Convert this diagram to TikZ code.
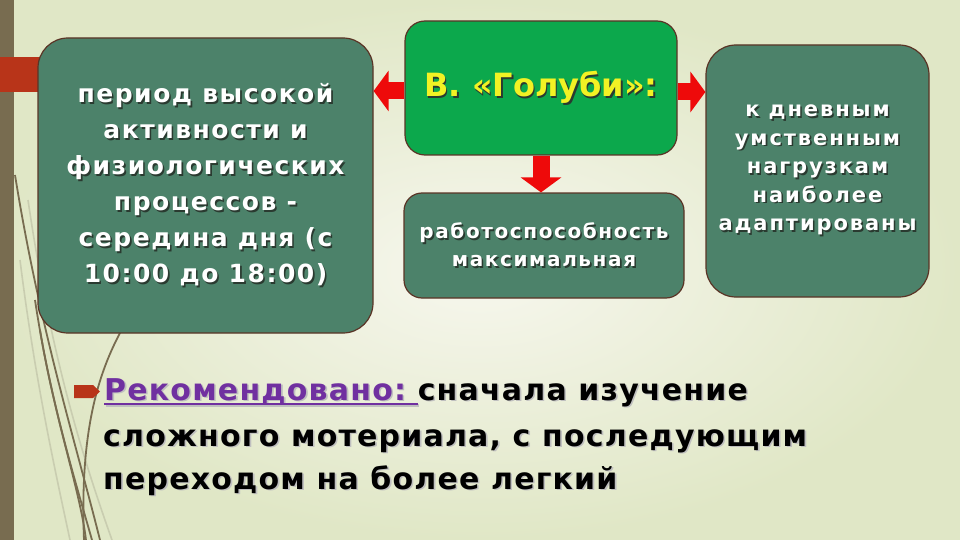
\documentclass[tikz,border=0pt]{standalone}
\usepackage{fontspec}
\setmainfont{DejaVu Sans}
\usetikzlibrary{arrows.meta}
\definecolor{bgin}{HTML}{F7F7EE}
\definecolor{bgout}{HTML}{E0E7C6}
\definecolor{olive}{HTML}{786C50}
\definecolor{paleolive}{HTML}{C9CDB0}
\definecolor{barred}{HTML}{B83419}
\definecolor{teal}{HTML}{4C826A}
\definecolor{brightgreen}{HTML}{0CA84C}
\definecolor{edge}{HTML}{5A3426}
\definecolor{arrowred}{HTML}{EE0A0A}
\definecolor{titleyellow}{HTML}{F2F224}
\definecolor{recpurple}{HTML}{7030A0}
\definecolor{shadowc}{HTML}{2A3A30}
\newcommand\shd[1]{\leavevmode\rlap{\kern1.6pt\raisebox{-1.6pt}{\textcolor{shadowc}{#1}}}#1}
\newcommand\shdl[1]{\leavevmode\rlap{\kern1.6pt\raisebox{-1.6pt}{\textcolor{black!25}{#1}}}#1}
\newcommand\myul[1]{\setbox0\hbox{#1}\rlap{\raisebox{-5pt}{\rule{\wd0}{2.4pt}}}\box0}
\newcommand\recline{\myul{Рекомендовано:\ }}
\tikzset{
  box/.style={draw=edge, line width=1.2pt, fill=teal, text=white, align=center, inner sep=0pt},
  bigarrow/.style={draw=arrowred, line width=17pt, -{Triangle[length=15pt,width=40pt]}},
  deco/.style={draw=olive, line width=1.8pt},
  decopale/.style={draw=paleolive, line width=1.6pt},
  bodytext/.style={anchor=base west, inner sep=0pt, font=\fontsize{30}{44}\selectfont\bfseries\addfontfeature{LetterSpace=4}},
}
\begin{document}
\begin{tikzpicture}[x=1pt,y=-1pt]
\useasboundingbox (0,0) rectangle (960,540);
\shade[inner color=bgin, outer color=bgout] (0,0) rectangle (960,540);
% left decorative bar and curves
\fill[olive] (0,0) rectangle (14,540);
\draw[decopale] (20,260) .. controls (35,380) and (55,470) .. (70,540);
\draw[decopale] (28,200) .. controls (50,350) and (80,450) .. (112,540);
\draw[deco] (15,175) .. controls (40,330) and (75,440) .. (100,540);
\draw[deco] (35,300) .. controls (50,400) and (75,480) .. (92,540);
\draw[deco] (40,330) .. controls (55,420) and (80,490) .. (86,540);
\draw[deco] (120,333) .. controls (95,380) and (80,440) .. (84,540);
\fill[barred] (0,57) rectangle (60,92);
% boxes
\node[box, minimum width=335pt, minimum height=295pt, rounded corners=30pt,
      font=\fontsize{25}{36}\selectfont\bfseries\addfontfeature{LetterSpace=6}] (left) at (205.5,185.5)
  {\shd{период высокой}\\\shd{активности и}\\\shd{физиологических}\\\shd{процессов -}\\\shd{середина дня (с}\\\shd{10:00 до 18:00)}};
\node[box, fill=brightgreen, text=titleyellow, minimum width=272pt, minimum height=134pt, rounded corners=20pt,
      font=\fontsize{32}{40}\selectfont\bfseries] (mid) at (541,88)
  {\shd{В. «Голуби»:}};
\node[box, minimum width=280pt, minimum height=105pt, rounded corners=18pt,
      font=\fontsize{20}{28}\selectfont\bfseries\addfontfeature{LetterSpace=8}] (bot) at (544,245.5)
  {\shd{работоспособность}\\\shd{максимальная}};
\node[box, minimum width=223pt, minimum height=252pt, rounded corners=30pt,
      font=\fontsize{21}{28.5}\selectfont\bfseries\addfontfeature{LetterSpace=9}] (right) at (817.5,171)
  {\shd{к дневным}\\\shd{умственным}\\\shd{нагрузкам}\\\shd{наиболее}\\\shd{адаптированы}};
% arrows
\draw[bigarrow] ([yshift=-3pt]mid.west) -- ([yshift=-3pt]left.east |- mid.west);
\draw[bigarrow] ([yshift=-4pt]mid.east) -- ([yshift=-4pt]right.west |- mid.east);
\draw[bigarrow] (mid.south) -- (mid.south |- bot.north);
% bottom text
\fill[barred] (74,385) -- (93,385) -- (100,391.5) -- (93,398) -- (74,398) -- cycle;
\node[bodytext] (l1) at (104,400)
  {\leavevmode\rlap{\kern1.6pt\raisebox{-1.6pt}{\color{black!25}\recline сначала изучение}}{\color{recpurple}\recline}сначала изучение};
\node[bodytext] (l2) at (103,446) {\shdl{сложного мотериала, с последующим}};
\node[bodytext] (l3) at (103,489) {\shdl{переходом на более легкий}};
\end{tikzpicture}
\end{document}
